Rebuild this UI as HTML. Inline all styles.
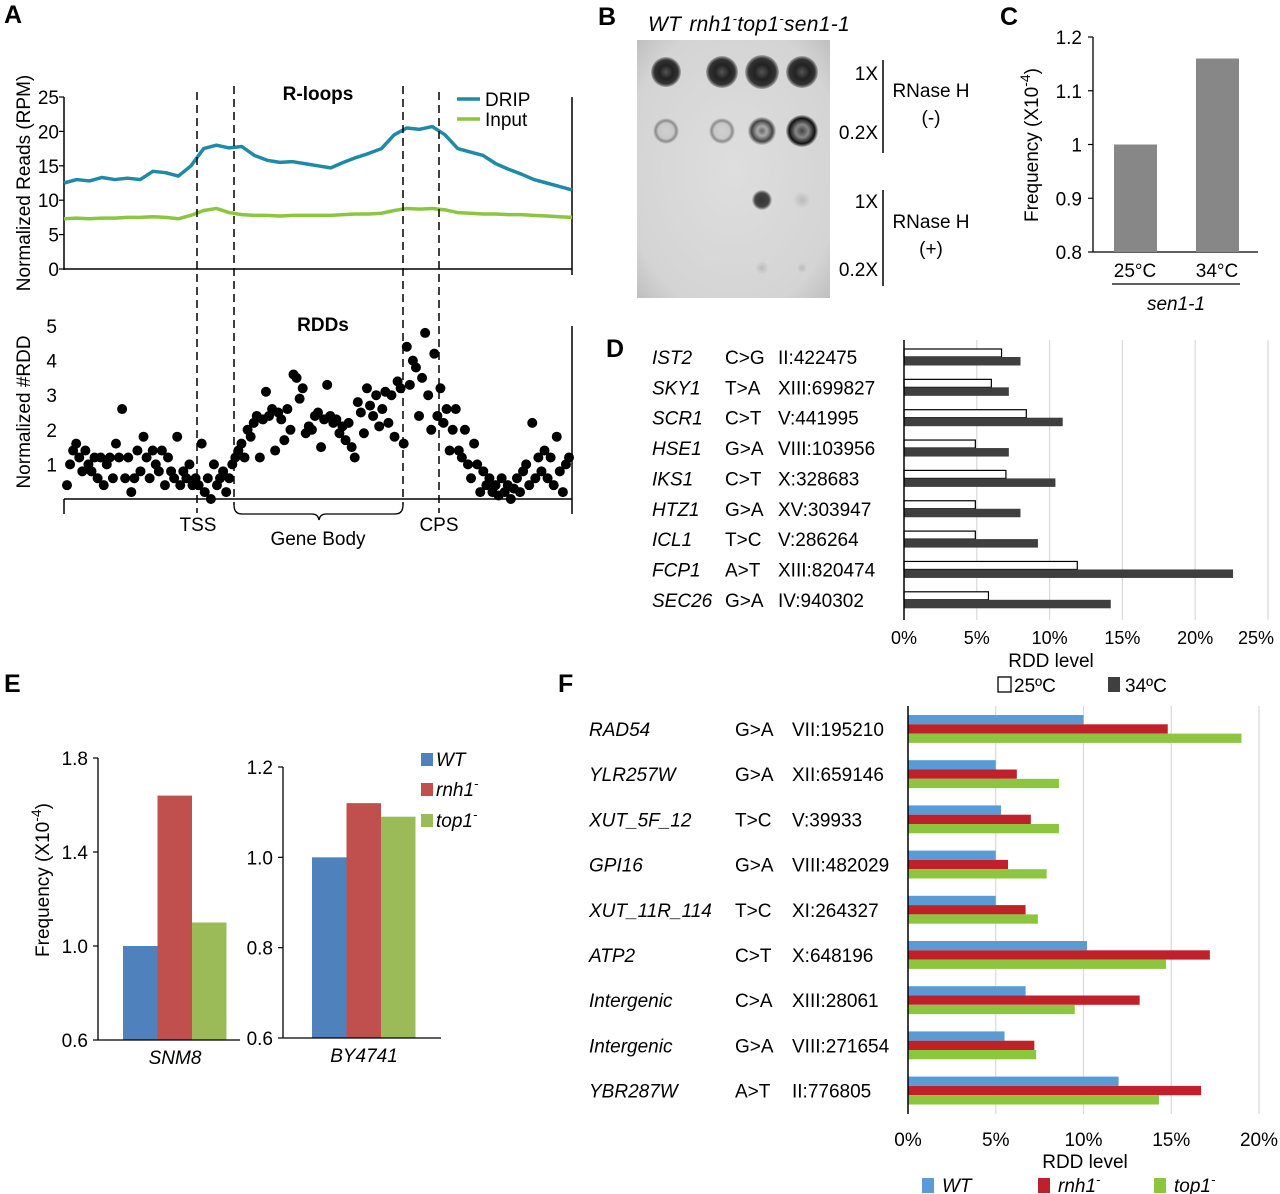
<!DOCTYPE html>
<html><head><meta charset="utf-8"><style>
body{margin:0;background:#fff;}
svg{display:block;font-family:"Liberation Sans",Arial,sans-serif;}
</style></head><body>
<svg id="fig" width="1280" height="1194" viewBox="0 0 1280 1194">
<defs>
<radialGradient id="gDark"><stop offset="0" stop-color="#555"/><stop offset="0.45" stop-color="#222"/><stop offset="0.8" stop-color="#333"/><stop offset="1" stop-color="#aaa"/></radialGradient>
<radialGradient id="gRingFaint"><stop offset="0" stop-color="#d0d0d0"/><stop offset="0.6" stop-color="#c8c8c8"/><stop offset="0.8" stop-color="#8a8a8a"/><stop offset="1" stop-color="#d6d6d6"/></radialGradient>
<radialGradient id="gRingMed"><stop offset="0" stop-color="#666"/><stop offset="0.35" stop-color="#aaa"/><stop offset="0.75" stop-color="#444"/><stop offset="1" stop-color="#ccc"/></radialGradient>
<radialGradient id="gRingDark"><stop offset="0" stop-color="#444"/><stop offset="0.4" stop-color="#888"/><stop offset="0.8" stop-color="#111"/><stop offset="1" stop-color="#bbb"/></radialGradient>
<radialGradient id="gMid"><stop offset="0" stop-color="#333"/><stop offset="0.7" stop-color="#444"/><stop offset="1" stop-color="#ccc"/></radialGradient>
<radialGradient id="gFaint"><stop offset="0" stop-color="#bbb"/><stop offset="1" stop-color="#d8d8d8"/></radialGradient>
<radialGradient id="gBlot" cx="0.5" cy="0.5" r="0.7"><stop offset="0" stop-color="#dedede"/><stop offset="0.8" stop-color="#d4d4d4"/><stop offset="1" stop-color="#c0c0c0"/></radialGradient>
</defs>

<g font-weight="bold" font-size="25">
<text x="4" y="23">A</text><text x="598" y="25">B</text><text x="1000" y="25">C</text>
<text x="606" y="357">D</text><text x="4" y="692">E</text><text x="558" y="692">F</text>
</g>

<g id="panelA"></g>
<g id="panelB"></g>
<g id="panelC"></g>
<g id="panelD"></g>
<g id="panelE"></g>
<g id="panelF"></g>
</svg>
<script>
// ===== Panel A data =====
const dripValues = [12.5,13,12.8,13.3,13,13.2,13,14.2,14,13.5,15,17.5,18,17.6,17.8,16.5,15.8,15.5,15.6,15.3,15,14.7,15.5,16.2,16.8,17.5,19.5,20.5,20.3,20.7,19.5,17.5,17,16.5,15.3,14.5,13.8,13,12.5,12,11.5];
const inputValues = [7.3,7.4,7.3,7.4,7.4,7.5,7.5,7.6,7.5,7.3,7.8,8.5,8.8,8.2,7.9,7.8,7.8,7.7,7.8,7.8,7.8,7.8,7.9,8.0,8.0,8.1,8.5,8.8,8.7,8.8,8.6,8.2,8.1,8.0,8.0,7.9,7.9,7.8,7.7,7.6,7.5];
const rloopTicks = [0,5,10,15,20,25];
const rddValues = [0.4,1.0,1.4,1.6,1.2,0.8,1.4,1.0,0.8,1.2,0.6,1.2,0.4,1.0,1.2,0.6,1.6,1.2,2.6,0.6,1.2,0.2,0.6,1.4,0.8,1.8,1.2,0.6,1.4,1.0,0.8,1.4,0.4,1.2,0.8,0.6,1.8,0.4,0.8,0.6,1.0,0.4,0.6,
0.4,1.6,0.2,0.6,0.0,1.0,0.4,0.6,0.8,0.2,0.6,1.0,
1.2,1.4,1.6,1.2,2.0,1.8,2.2,2.4,1.2,2.3,3.1,2.4,2.6,1.4,2.5,2.3,1.7,2.6,2.0,3.6,3.5,2.9,3.2,1.9,2.1,2.0,2.4,2.5,1.5,2.3,3.3,2.4,2.2,2.3,1.9,2.1,1.7,2.2,1.5,1.2,2.8,2.5,1.9,3.2,2.7,2.4,3.0,2.1,2.6,3.1,2.2,3.0,1.8,3.4,
3.2,1.6,4.4,3.3,4.0,3.8,2.4,3.5,4.8,3.0,2.0,4.2,
2.4,3.2,2.2,2.6,1.4,2.0,2.6,1.4,1.2,2.0,1.0,0.6,1.6,1.0,0.2,0.8,
0.4,0.6,0.2,0.4,0.1,0.6,0.2,0.4,0.0,0.3,0.6,0.2,0.8,1.0,0.4,2.2,0.6,1.2,0.8,1.4,0.6,1.2,0.4,1.8,0.8,0.2,1.0,1.2];
const rddTicks = [1,2,3,4,5];

// ===== Panel C data =====
const cCategories = ["25°C","34°C"];
const cValues = [1.0,1.16];
const cTicks = ["0.8","0.9","1","1.1","1.2"];

// ===== Panel D data =====
const dGenes = ["IST2","SKY1","SCR1","HSE1","IKS1","HTZ1","ICL1","FCP1","SEC26"];
const dMut = ["C>G","T>A","C>T","G>A","C>T","G>A","T>C","A>T","G>A"];
const dLoc = ["II:422475","XIII:699827","V:441995","VIII:103956","X:328683","XV:303947","V:286264","XIII:820474","IV:940302"];
const d25 = [6.7,6.0,8.4,4.9,7.0,4.9,4.9,11.9,5.8];
const d34 = [8.0,7.2,10.9,7.2,10.4,8.0,9.2,22.6,14.2];
const dTicks = [0,5,10,15,20,25];

// ===== Panel E data =====
const eSeries = ["WT","rnh1","top1"];
const eSNM8 = [1.0,1.64,1.1];
const eBY4741 = [1.0,1.12,1.09];
const eTicksL = ["0.6","1.0","1.4","1.8"];
const eTicksR = ["0.6","0.8","1.0","1.2"];

// ===== Panel F data =====
const fGenes = ["RAD54","YLR257W","XUT_5F_12","GPI16","XUT_11R_114","ATP2","Intergenic","Intergenic","YBR287W"];
const fMut = ["G>A","G>A","T>C","G>A","T>C","C>T","C>A","G>A","A>T"];
const fLoc = ["VII:195210","XII:659146","V:39933","VIII:482029","XI:264327","X:648196","XIII:28061","VIII:271654","II:776805"];
const fWT = [10,5,5.3,5,5,10.2,6.7,5.5,12];
const fRnh1 = [14.8,6.2,7,5.7,6.7,17.2,13.2,7.2,16.7];
const fTop1 = [19,8.6,8.6,7.9,7.4,14.7,9.5,7.3,14.3];
const fTicks = [0,5,10,15,20];

const NS="http://www.w3.org/2000/svg";
function el(parent,tag,attrs,text){const e=document.createElementNS(NS,tag);for(const k in attrs)e.setAttribute(k,attrs[k]);if(text!==undefined)e.textContent=text;parent.appendChild(e);return e;}

// ===== Panel A =====
(function(){
const g=document.getElementById('panelA');
const x0=64,x1=572;
const yTop=v=>269-v*(172/25);
const yBot=v=>499-v*(173/5);
let e;
e=el(g,'line',{x1:x0,y1:97,x2:x0,y2:270,stroke:'#000','stroke-width':1.5});


e=el(g,'line',{x1:x0,y1:269,x2:x1,y2:269,stroke:'#000','stroke-width':1.5});


el(g,'line',{x1:x1,y1:97,x2:x1,y2:275,stroke:'#000','stroke-width':1.5});
rloopTicks.forEach(t=>{
 el(g,'line',{x1:x0-5,y1:yTop(t),x2:x0,y2:yTop(t),stroke:'#000','stroke-width':1.2});
 e=el(g,'text',{x:x0-5,y:yTop(t)+7,'font-size':19,'text-anchor':'end'},String(t));
 
 
});
e=el(g,'text',{x:0,y:0,'font-size':19,'text-anchor':'middle',transform:'translate(30,183) rotate(-90)'},'Normalized Reads (RPM)');


e=el(g,'text',{x:318,y:100,'font-size':19,'font-weight':'bold','text-anchor':'middle'},'R-loops');


const xs=i=>x0+i*(x1-x0)/(dripValues.length-1);
e=el(g,'polyline',{points:dripValues.map((v,i)=>xs(i)+','+yTop(v)).join(' '),fill:'none',stroke:'#1f8aa6','stroke-width':3.5,'stroke-linejoin':'round'});


const xs2=i=>x0+i*(x1-x0)/(inputValues.length-1);
e=el(g,'polyline',{points:inputValues.map((v,i)=>xs2(i)+','+yTop(v)).join(' '),fill:'none',stroke:'#8cc63f','stroke-width':3.5,'stroke-linejoin':'round'});


el(g,'line',{x1:457,y1:99,x2:480,y2:99,stroke:'#1f8aa6','stroke-width':3.5});
e=el(g,'text',{x:485,y:106,'font-size':19},'DRIP');


el(g,'line',{x1:457,y1:119,x2:480,y2:119,stroke:'#8cc63f','stroke-width':3.5});
e=el(g,'text',{x:485,y:126,'font-size':19},'Input');


el(g,'line',{x1:x0,y1:499,x2:x1,y2:499,stroke:'#000','stroke-width':1.5});
el(g,'line',{x1:x0,y1:499,x2:x0,y2:514,stroke:'#000','stroke-width':1.5});
el(g,'line',{x1:x1,y1:326,x2:x1,y2:514,stroke:'#000','stroke-width':1.5});
rddTicks.forEach(t=>{
 e=el(g,'text',{x:x0-7,y:yBot(t)+7,'font-size':19,'text-anchor':'end'},String(t));
 
 
});
e=el(g,'text',{x:0,y:0,'font-size':19,'text-anchor':'middle',transform:'translate(30,412) rotate(-90)'},'Normalized #RDD');


e=el(g,'text',{x:323,y:331,'font-size':19,'font-weight':'bold','text-anchor':'middle'},'RDDs');


const n=rddValues.length;
rddValues.forEach((v,i)=>{
 e=el(g,'circle',{cx:x0+3+i*(x1-x0-6)/(n-1),cy:yBot(v),r:5,fill:'#000'});
 
 
});
[[197,92,513],[234,86,505],[403,86,505],[439,92,513]].forEach(d=>{
 e=el(g,'line',{x1:d[0],y1:d[1],x2:d[0],y2:d[2],stroke:'#000','stroke-width':1.5,'stroke-dasharray':'8,5'});
 
 
});
el(g,'path',{d:'M234,505 Q234,514 242,514 L312,514 Q318,514 319,520 Q320,514 326,514 L395,514 Q403,514 403,505',fill:'none',stroke:'#000','stroke-width':1.3});
e=el(g,'text',{x:198,y:531,'font-size':19,'text-anchor':'middle'},'TSS');


e=el(g,'text',{x:318,y:545,'font-size':19,'text-anchor':'middle'},'Gene Body');


e=el(g,'text',{x:439,y:531,'font-size':19,'text-anchor':'middle'},'CPS');


})();

// ===== Panel B =====
(function(){
const g=document.getElementById('panelB');
let e=el(g,'rect',{x:637,y:40,width:193,height:258,fill:'url(#gBlot)'});


const cols=[666,722,762,802];
const dots=[
 [72,[[15,'gDark'],[16,'gDark'],[17,'gDark'],[16,'gDark']]],
 [131,[[13,'gRingFaint'],[13,'gRingFaint'],[14,'gRingMed'],[16,'gRingDark']]],
 [200,[null,null,[10,'gMid'],[9,'gFaint']]],
 [268,[null,null,[7,'gFaint'],[6,'gFaint']]]];
dots.forEach(r=>r[1].forEach((d,i)=>{if(!d)return;
 e=el(g,'circle',{cx:cols[i],cy:r[0],r:d[0],fill:'url(#'+d[1]+')'});
 
 }));
e=el(g,'text',{x:648,y:31,'font-size':21,'font-style':'italic','letter-spacing':'0.3'});
e.innerHTML='WT <tspan dx="2">rnh1</tspan><tspan dy="-8" font-size="13">-</tspan><tspan dy="8">top1</tspan><tspan dy="-8" font-size="13">-</tspan><tspan dy="8">sen1-1</tspan>';


const lab=[['1X',878,80],['0.2X',878,139],['1X',878,208],['0.2X',878,276]];
lab.forEach(l=>{e=el(g,'text',{x:l[1],y:l[2],'font-size':19,'text-anchor':'end'},l[0]);
 
 });
el(g,'line',{x1:883,y1:60,x2:883,y2:153,stroke:'#000','stroke-width':1.5});
el(g,'line',{x1:883,y1:190,x2:883,y2:286,stroke:'#000','stroke-width':1.5});
e=el(g,'text',{x:931,y:97,'font-size':19,'text-anchor':'middle'},'RNase H');


el(g,'text',{x:931,y:124,'font-size':19,'text-anchor':'middle'},'(-)');
e=el(g,'text',{x:931,y:228,'font-size':19,'text-anchor':'middle'},'RNase H');


el(g,'text',{x:931,y:255,'font-size':19,'text-anchor':'middle'},'(+)');
})();

// ===== Panel C =====
(function(){
const g=document.getElementById('panelC');
const y=v=>252-(v-0.8)*(215/0.4);
let e;
el(g,'line',{x1:1093,y1:37,x2:1093,y2:252,stroke:'#000','stroke-width':1.3});
el(g,'line',{x1:1093,y1:252,x2:1258,y2:252,stroke:'#000','stroke-width':1.3});
cTicks.forEach(t=>{const v=parseFloat(t);
 el(g,'line',{x1:1088,y1:y(v),x2:1093,y2:y(v),stroke:'#000','stroke-width':1.2});
 e=el(g,'text',{x:1082,y:y(v)+7,'font-size':19,'text-anchor':'end'},t);
 
 });
const bx=[1114,1196];
cValues.forEach((v,i)=>{
 e=el(g,'rect',{x:bx[i],y:y(v),width:43,height:252-y(v),fill:'#878787'});
 
 
 e=el(g,'text',{x:bx[i]+21,y:277,'font-size':19,'text-anchor':'middle'},cCategories[i]);
 
 });
el(g,'line',{x1:1112,y1:284,x2:1240,y2:284,stroke:'#000','stroke-width':1.3});
e=el(g,'text',{x:1176,y:310,'font-size':19,'font-style':'italic','text-anchor':'middle'},'sen1-1');


e=el(g,'text',{x:0,y:0,'font-size':19,'text-anchor':'middle',transform:'translate(1038,145) rotate(-90)'});
e.innerHTML='Frequency (X10<tspan dy="-8" font-size="14">-4</tspan><tspan dy="8">)</tspan>';


})();

// ===== Panel D =====
(function(){
const g=document.getElementById('panelD');
const x=v=>904+v*(364/25);
let e;
dTicks.forEach(t=>{
 if(t>0){e=el(g,'line',{x1:x(t),y1:340,x2:x(t),y2:620,stroke:'#d9d9d9','stroke-width':1.2});
  
  }
 e=el(g,'text',{x:Math.min(x(t),1256),y:644,'font-size':18,'text-anchor':'middle'},t+'%');
 
 });
const rowY=i=>357+i*30.35;
dGenes.forEach((gname,i)=>{
 const cy=rowY(i);
 e=el(g,'rect',{x:904,y:cy-8,width:x(d25[i])-904,height:8,fill:'#fff',stroke:'#000','stroke-width':1.2});
 
 
 e=el(g,'rect',{x:904,y:cy,width:x(d34[i])-904,height:8.5,fill:'#3f3f3f'});
 
 
 e=el(g,'text',{x:652,y:cy+7,'font-size':19,'font-style':'italic'},gname);
 
 
 e=el(g,'text',{x:725,y:cy+7,'font-size':19},dMut[i]);
 
 
 e=el(g,'text',{x:778,y:cy+7,'font-size':19},dLoc[i]);
 
 
});
el(g,'line',{x1:904,y1:340,x2:904,y2:620,stroke:'#000','stroke-width':1.5});
e=el(g,'text',{x:1051,y:667,'font-size':19,'text-anchor':'middle'},'RDD level');


el(g,'rect',{x:998,y:677,width:13,height:15,fill:'#fff',stroke:'#000','stroke-width':1.3});
e=el(g,'text',{x:1014,y:692,'font-size':19},'25ºC');


el(g,'rect',{x:1108,y:677,width:12,height:15,fill:'#3f3f3f'});
e=el(g,'text',{x:1125,y:692,'font-size':19},'34ºC');


})();

// ===== Panel E =====
(function(){
const g=document.getElementById('panelE');
const colors=['#4f81bd','#c0504d','#9bbb59'];
let e;
function chart(ax,xEnd,yTopPx,yBotPx,vmin,vmax,ticks,vals,bx,label){
 const y=v=>yBotPx-(v-vmin)*(yBotPx-yTopPx)/(vmax-vmin);
 vals.forEach((v,i)=>{e=el(g,'rect',{x:bx+i*34.5,y:y(v),width:34.5,height:yBotPx-y(v),fill:colors[i]});
  
  });
 el(g,'line',{x1:ax,y1:yTopPx,x2:ax,y2:yBotPx,stroke:'#000','stroke-width':1.3});
 el(g,'line',{x1:ax,y1:yBotPx,x2:xEnd,y2:yBotPx,stroke:'#000','stroke-width':1.3});
 ticks.forEach(t=>{const v=parseFloat(t);
  el(g,'line',{x1:ax-5,y1:y(v),x2:ax,y2:y(v),stroke:'#000','stroke-width':1.2});
  e=el(g,'text',{x:ax-10,y:y(v)+7,'font-size':19,'text-anchor':'end'},t);
  
  });
 e=el(g,'text',{x:bx+52,y:yBotPx+24,'font-size':19,'font-style':'italic','text-anchor':'middle'},label);
 
 
}
chart(98,240,758,1040,0.6,1.8,eTicksL,eSNM8,123,'SNM8');
chart(283,441,767,1038,0.6,1.2,eTicksR,eBY4741,312,'BY4741');
e=el(g,'text',{x:0,y:0,'font-size':19,'text-anchor':'middle',transform:'translate(49,880) rotate(-90)'});
e.innerHTML='Frequency (X10<tspan dy="-8" font-size="14">-4</tspan><tspan dy="8">)</tspan>';


const ly=[753,783,814];
eSeries.forEach((s,i)=>{
 el(g,'rect',{x:421,y:ly[i],width:12,height:13,fill:colors[i]});
 e=el(g,'text',{x:436,y:ly[i]+13,'font-size':19,'font-style':'italic'});
 e.innerHTML= i===0?'WT':s+'<tspan dy="-8" font-size="13">-</tspan>';
 
 
});
})();

// ===== Panel F =====
(function(){
const g=document.getElementById('panelF');
const x=v=>908+v*(351/20);
const colors=['#5b9bd5','#c0202a','#8cc63f'];
let e;
fTicks.forEach(t=>{
 if(t>0){e=el(g,'line',{x1:x(t),y1:706,x2:x(t),y2:1114,stroke:'#d9d9d9','stroke-width':1.2});
  
  }
 e=el(g,'text',{x:x(t),y:1146,'font-size':19,'text-anchor':'middle'},t+'%');
 
 });
const rowY=i=>729+i*45.2;
fGenes.forEach((gn,i)=>{
 const cy=rowY(i);
 [fWT,fRnh1,fTop1].forEach((arr,k)=>{
  e=el(g,'rect',{x:908,y:cy-14+k*9.3,width:x(arr[i])-908,height:9.3,fill:colors[k]});
  
  
 });
 e=el(g,'text',{x:589,y:cy+7,'font-size':19,'font-style':'italic'},gn);
 
 
 e=el(g,'text',{x:735,y:cy+7,'font-size':19},fMut[i]);
 
 
 e=el(g,'text',{x:792,y:cy+7,'font-size':19},fLoc[i]);
 
 
});
el(g,'line',{x1:908,y1:706,x2:908,y2:1114,stroke:'#000','stroke-width':1.5});
e=el(g,'text',{x:1085,y:1168,'font-size':19,'text-anchor':'middle'},'RDD level');


const lx=[922,1038,1154],names=['WT','rnh1','top1'];
names.forEach((s,i)=>{
 el(g,'rect',{x:lx[i],y:1178,width:12,height:15,fill:colors[i]});
 e=el(g,'text',{x:lx[i]+20,y:1192,'font-size':19,'font-style':'italic'});
 e.innerHTML= i===0?'WT':s+'<tspan dy="-8" font-size="13">-</tspan>';
 
 
});
})();
</script>
</body></html>
